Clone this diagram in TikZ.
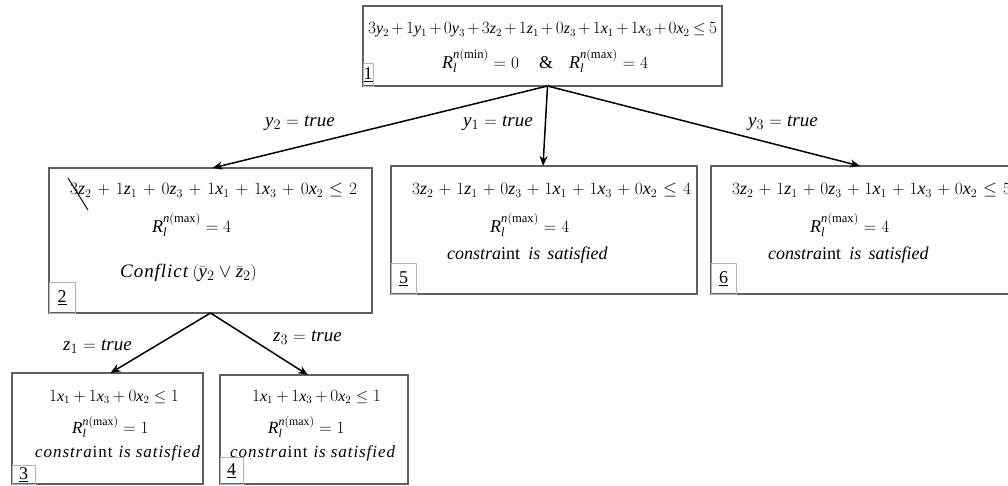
\documentclass[tikz,border=0pt]{standalone}
\usepackage{fontspec}
\setmainfont[NFSSFamily=libser]{Liberation Serif}
\DeclareFontShape{OMS}{cmsy}{m}{n}{<->cmsy10}{}
\DeclareSymbolFont{letters}{TU}{libser}{m}{it}
\usetikzlibrary{arrows.meta}
\definecolor{boxgray}{RGB}{95,95,95}
\definecolor{tagblue}{RGB}{165,180,205}
\newcommand{\cis}{{\addfontfeatures{LetterSpace=2}\textit{constra}int\hspace{0.35em}\textit{is\hspace{0.3em}satisfied}}}
\newcommand{\cisw}{{\addfontfeatures{LetterSpace=5.5}\textit{constra}int\hspace{0.45em}\textit{is\hspace{0.4em}satisfied}}}
\begin{document}
\begin{tikzpicture}[x=1pt,y=-1pt,
  box/.style={draw=boxgray, line width=1.3pt, anchor=north west, inner sep=0pt, outer sep=0pt, rectangle},
  tag/.style={draw=tagblue, line width=0.8pt, anchor=south west, inner sep=0pt, outer sep=0pt, rectangle, font=\fontsize{18}{20}\selectfont},
  eq/.style={inner sep=0pt, anchor=west, font=\fontsize{18}{20}\selectfont},
  eqm/.style={inner sep=0pt, anchor=west, font=\fontsize{17}{19}\selectfont},
  eqs/.style={inner sep=0pt, anchor=west, font=\fontsize{16}{18}\selectfont},
  lab/.style={inner sep=0pt, anchor=west, font=\fontsize{19}{21}\selectfont},
  arr/.style={-{Stealth[length=10pt,width=8pt]}, line width=1.5pt, black}]
\useasboundingbox (0,0) rectangle (1008,486);
\clip (0,0) rectangle (1008,486);
% boxes
\node[box, minimum width=359pt, minimum height=80pt] (b1) at (363,6) {};
\node[box, minimum width=323pt, minimum height=145pt] (b2) at (49,168) {};
\node[box, minimum width=306pt, minimum height=128pt] (b5) at (391,166) {};
\node[box, minimum width=298pt, minimum height=128pt] (b6) at (711,166) {};
\node[box, minimum width=191pt, minimum height=111pt] (b3) at (12,373) {};
\node[box, minimum width=188pt, minimum height=109pt] (b4) at (220,375) {};
% tags
\node[tag, minimum width=10pt, minimum height=23pt] (t1) at (b1.south west) {\underline{1}};
\node[tag, minimum width=26pt, minimum height=31pt] (t2) at (b2.south west) {\raisebox{-6pt}{\underline{2}}};
\node[tag, minimum width=25pt, minimum height=31pt] (t5) at (b5.south west) {\raisebox{-6pt}{\underline{5}}};
\node[tag, minimum width=25pt, minimum height=31pt] (t6) at (b6.south west) {\raisebox{-6pt}{\underline{6}}};
\node[tag, minimum width=23pt, minimum height=19pt] (t3) at (b3.south west) {\underline{3}};
\node[tag, minimum width=23pt, minimum height=27pt] (t4) at (b4.south west) {\raisebox{-4pt}{\underline{4}}};
% box 1 text
\node[eqs] (e11) at (368,30) {$\medmuskip=2.5mu \thickmuskip=4mu 3y_2+1y_1+0y_3+3z_2+1z_1+0z_3+1x_1+1x_3+0x_2\le 5$};
\node[eq] (e12) at (442,61) {$R_l^{n(\min)}=0\hspace{20pt}\&\hspace{16pt}R_l^{n(\max)}=4$};
% box 2 text
\node[eq] (e21) at (70,190) {$\medmuskip=6mu \thickmuskip=6mu 3z_2+1z_1+0z_3+1x_1+1x_3+0x_2\le 2$};
\node[eq] (e22) at (152,225) {$R_l^{n(\max)}=4$};
\node[lab] (e23) at (120,273) {{\addfontfeatures{LetterSpace=5}\textit{Conflict}}\,$(\bar{y}_2\vee\bar{z}_2)$};
\draw[line width=1pt] (68,178) -- (88,210);
% box 5 text
\node[eq] (e51) at (412,190) {$\medmuskip=5.2mu \thickmuskip=6mu 3z_2+1z_1+0z_3+1x_1+1x_3+0x_2\le 4$};
\node[eq] (e52) at (490,225) {$R_l^{n(\max)}=4$};
\node[eq] (e53) at (447,255) {\cisw};
% box 6 text
\node[eq] (e61) at (732,190) {$\medmuskip=5.2mu \thickmuskip=6mu 3z_2+1z_1+0z_3+1x_1+1x_3+0x_2\le 5$};
\node[eq] (e62) at (810,225) {$R_l^{n(\max)}=4$};
\node[eq] (e63) at (768,255) {\cisw};
% box 3 text
\node[eqs] (e31) at (49,397) {$\medmuskip=3.5mu 1x_1+1x_3+0x_2\le 1$};
\node[eqm] (e32) at (72,427) {$R_l^{n(\max)}=1$};
\node[eqm] (e33) at (35,453) {\cis};
% box 4 text
\node[eqs] (e41) at (252,397) {$\medmuskip=3.2mu 1x_1+1x_3+0x_2\le 1$};
\node[eqm] (e42) at (268,427) {$R_l^{n(\max)}=1$};
\node[eqm] (e43) at (230,453) {\cis};
% arrows
\draw[arr] ([xshift=5pt]b1.south) -- ([xshift=2pt]b2.north);
\draw[arr] ([xshift=5pt]b1.south) -- ([xshift=-1pt]b5.north);
\draw[arr] ([xshift=5pt]b1.south) -- (b6.north);
\draw[arr] (b2.south) -- ([xshift=3pt]b3.north);
\draw[arr] (b2.south) -- ([xshift=-6pt]b4.north);
% edge labels
\node[lab] (l2) at (265,123) {$y_2=true$};
\node[lab] (l5) at (463,123) {$y_1=true$};
\node[lab] (l6) at (748,123) {$y_3=true$};
\node[lab] (l3) at (63,347) {$z_1=true$};
\node[lab] (l4) at (273,338) {$z_3=true$};
\end{tikzpicture}
\end{document}
